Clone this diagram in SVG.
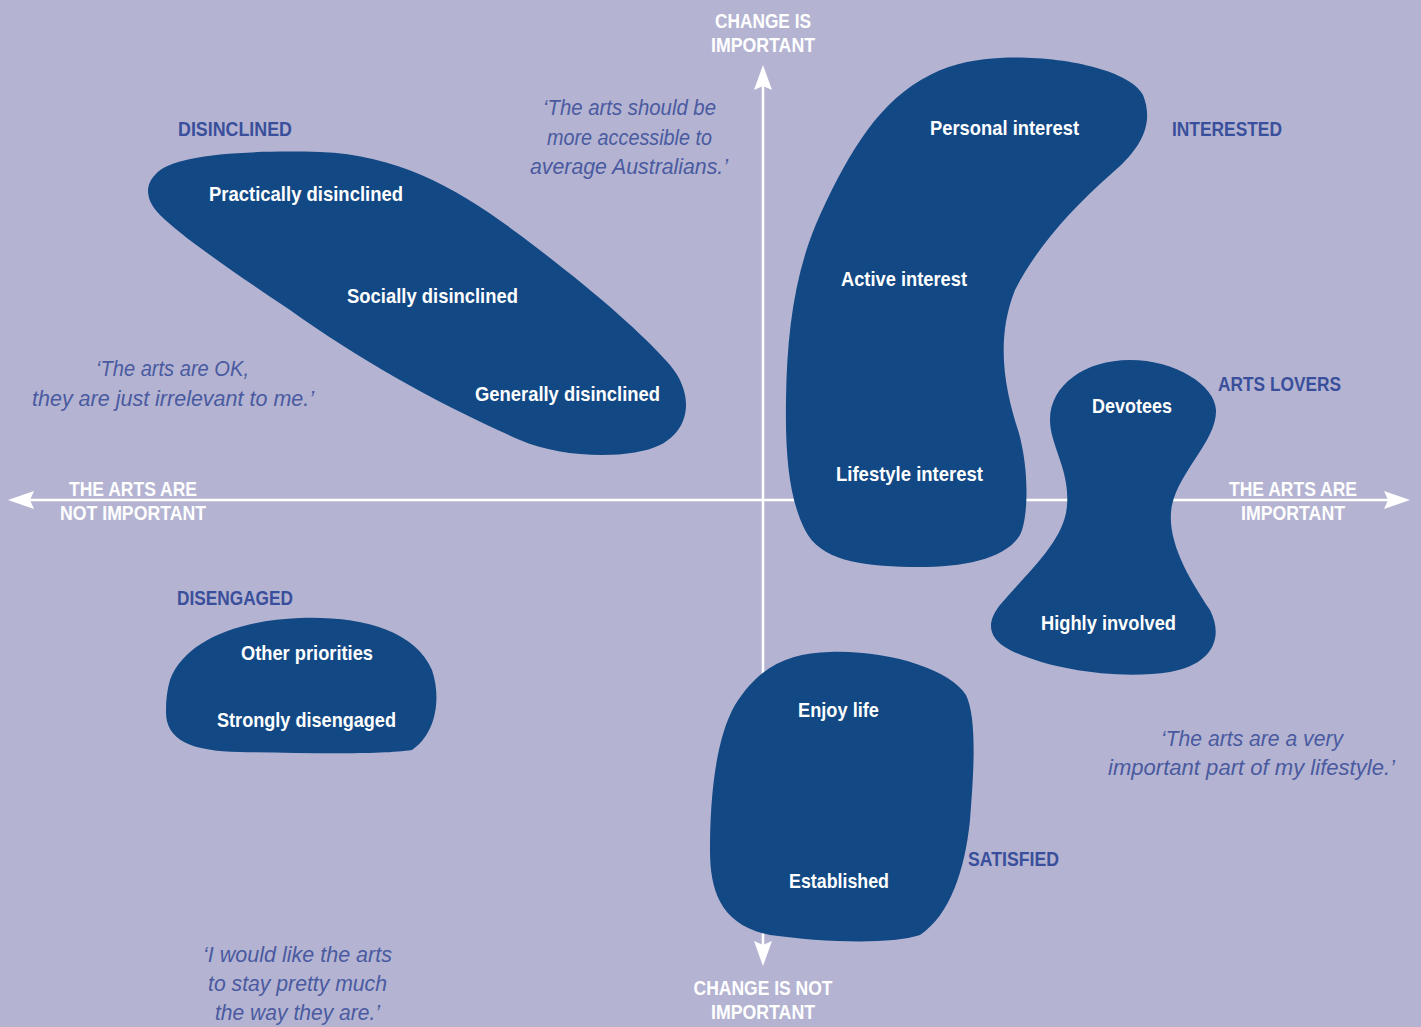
<svg xmlns="http://www.w3.org/2000/svg" width="1421" height="1027" viewBox="0 0 1421 1027">
<style>
.ax{font-family:"Liberation Sans",Arial,sans-serif;font-weight:bold;font-size:21px;fill:#ffffff;text-anchor:middle}
.cat{font-family:"Liberation Sans",Arial,sans-serif;font-weight:bold;font-size:21px;fill:#3a4f9b}
.lbl{font-family:"Liberation Sans",Arial,sans-serif;font-weight:bold;font-size:21px;fill:#ffffff}
.q{font-family:"Liberation Sans",Arial,sans-serif;font-style:italic;font-size:22px;fill:#4a5aa0}
.blob{fill:#124884}
.axis{stroke:#ffffff;stroke-width:2.5;fill:none}
.head{fill:#ffffff}
</style>
<rect width="1421" height="1027" fill="#b4b4d2"/>
<g id="connectors">
<line class="axis" x1="28" y1="500" x2="1390" y2="500"/>
<line class="axis" x1="763" y1="85" x2="763" y2="945"/>
<path class="head" d="M8,500 L34,491 L30,500 L34,509 Z"/>
<path class="head" d="M1410,500 L1384,491 L1388,500 L1384,509 Z"/>
<path class="head" d="M763,65 L754,90 L763,86 L772,90 Z"/>
<path class="head" d="M763,966 L754,941 L763,945 L772,941 Z"/>
</g>
<g id="axis-labels">
<text class="ax" x="763" y="28" textLength="96" lengthAdjust="spacingAndGlyphs">CHANGE IS</text>
<text class="ax" x="763" y="52" textLength="104" lengthAdjust="spacingAndGlyphs">IMPORTANT</text>
<text class="ax" x="133" y="496" textLength="128" lengthAdjust="spacingAndGlyphs">THE ARTS ARE</text>
<text class="ax" x="133" y="520" textLength="146" lengthAdjust="spacingAndGlyphs">NOT IMPORTANT</text>
<text class="ax" x="1293" y="496" textLength="128" lengthAdjust="spacingAndGlyphs">THE ARTS ARE</text>
<text class="ax" x="1293" y="520" textLength="104" lengthAdjust="spacingAndGlyphs">IMPORTANT</text>
<text class="ax" x="763" y="995" textLength="139" lengthAdjust="spacingAndGlyphs">CHANGE IS NOT</text>
<text class="ax" x="763" y="1019" textLength="104" lengthAdjust="spacingAndGlyphs">IMPORTANT</text>
</g>
<g id="disinclined">
<path class="blob" d="M155,175 C170,155 240,150 320,152 C400,155 460,190 520,235 C580,280 640,330 670,365 C695,395 690,430 660,445 C630,460 560,458 520,440 C440,405 360,360 290,310 C230,270 180,235 160,215 C145,200 145,185 155,175 Z"/>
<text class="cat" x="178" y="136" textLength="114" lengthAdjust="spacingAndGlyphs">DISINCLINED</text>
<text class="lbl" x="209" y="201" textLength="194" lengthAdjust="spacingAndGlyphs">Practically disinclined</text>
<text class="lbl" x="347" y="303" textLength="171" lengthAdjust="spacingAndGlyphs">Socially disinclined</text>
<text class="lbl" x="475" y="401" textLength="185" lengthAdjust="spacingAndGlyphs">Generally disinclined</text>
</g>
<g id="interested">
<path class="blob" d="M1000,58 C1060,55 1130,70 1143,95 C1155,125 1140,150 1110,175 C1070,210 1035,250 1015,290 C995,340 1005,390 1018,430 C1030,470 1028,520 1020,535 C1005,560 960,568 910,567 C860,566 820,560 805,530 C790,500 785,460 786,400 C787,330 795,270 820,215 C850,150 880,100 930,75 C955,62 980,59 1000,58 Z"/>
<text class="cat" x="1172" y="136" textLength="110" lengthAdjust="spacingAndGlyphs">INTERESTED</text>
<text class="lbl" x="930" y="135" textLength="149" lengthAdjust="spacingAndGlyphs">Personal interest</text>
<text class="lbl" x="841" y="286" textLength="126" lengthAdjust="spacingAndGlyphs">Active interest</text>
<text class="lbl" x="836" y="481" textLength="147" lengthAdjust="spacingAndGlyphs">Lifestyle interest</text>
</g>
<g id="arts-lovers">
<path class="blob" d="M1130,360 C1175,360 1215,385 1216,410 C1217,440 1180,470 1172,505 C1165,540 1190,580 1210,610 C1225,640 1210,665 1170,672 C1120,680 1050,670 1010,650 C985,637 988,620 1000,605 C1030,570 1065,540 1067,505 C1070,470 1050,445 1050,420 C1050,385 1085,360 1130,360 Z"/>
<text class="cat" x="1218" y="391" textLength="123" lengthAdjust="spacingAndGlyphs">ARTS LOVERS</text>
<text class="lbl" x="1092" y="413" textLength="80" lengthAdjust="spacingAndGlyphs">Devotees</text>
<text class="lbl" x="1041" y="630" textLength="135" lengthAdjust="spacingAndGlyphs">Highly involved</text>
</g>
<g id="disengaged">
<path class="blob" d="M170,680 C185,640 240,620 300,618 C360,616 415,630 432,670 C442,700 435,735 412,750 C380,755 300,753 240,752 C190,751 165,740 166,710 C166,700 167,690 170,680 Z"/>
<text class="cat" x="177" y="605" textLength="116" lengthAdjust="spacingAndGlyphs">DISENGAGED</text>
<text class="lbl" x="241" y="660" textLength="132" lengthAdjust="spacingAndGlyphs">Other priorities</text>
<text class="lbl" x="217" y="727" textLength="179" lengthAdjust="spacingAndGlyphs">Strongly disengaged</text>
</g>
<g id="satisfied">
<path class="blob" d="M830,652 C890,650 950,670 966,695 C978,720 973,780 970,820 C965,870 950,915 920,935 C890,945 820,942 770,935 C720,925 710,890 710,850 C710,800 715,740 735,705 C760,665 790,653 830,652 Z"/>
<text class="cat" x="968" y="866" textLength="91" lengthAdjust="spacingAndGlyphs">SATISFIED</text>
<text class="lbl" x="798" y="717" textLength="81" lengthAdjust="spacingAndGlyphs">Enjoy life</text>
<text class="lbl" x="789" y="888" textLength="100" lengthAdjust="spacingAndGlyphs">Established</text>
</g>
<g id="quotes">
<text class="q" x="543" y="115" textLength="173" lengthAdjust="spacingAndGlyphs">‘The arts should be</text>
<text class="q" x="547" y="145" textLength="165" lengthAdjust="spacingAndGlyphs">more accessible to</text>
<text class="q" x="530" y="174" textLength="198" lengthAdjust="spacingAndGlyphs">average Australians.’</text>
<text class="q" x="96" y="376" textLength="153" lengthAdjust="spacingAndGlyphs">‘The arts are OK,</text>
<text class="q" x="32" y="406" textLength="282" lengthAdjust="spacingAndGlyphs">they are just irrelevant to me.’</text>
<text class="q" x="1161" y="746" textLength="182" lengthAdjust="spacingAndGlyphs">‘The arts are a very</text>
<text class="q" x="1108" y="775" textLength="287" lengthAdjust="spacingAndGlyphs">important part of my lifestyle.’</text>
<text class="q" x="203" y="962" textLength="189" lengthAdjust="spacingAndGlyphs">‘I would like the arts</text>
<text class="q" x="208" y="991" textLength="179" lengthAdjust="spacingAndGlyphs">to stay pretty much</text>
<text class="q" x="215" y="1020" textLength="165" lengthAdjust="spacingAndGlyphs">the way they are.’</text>
</g>
</svg>
